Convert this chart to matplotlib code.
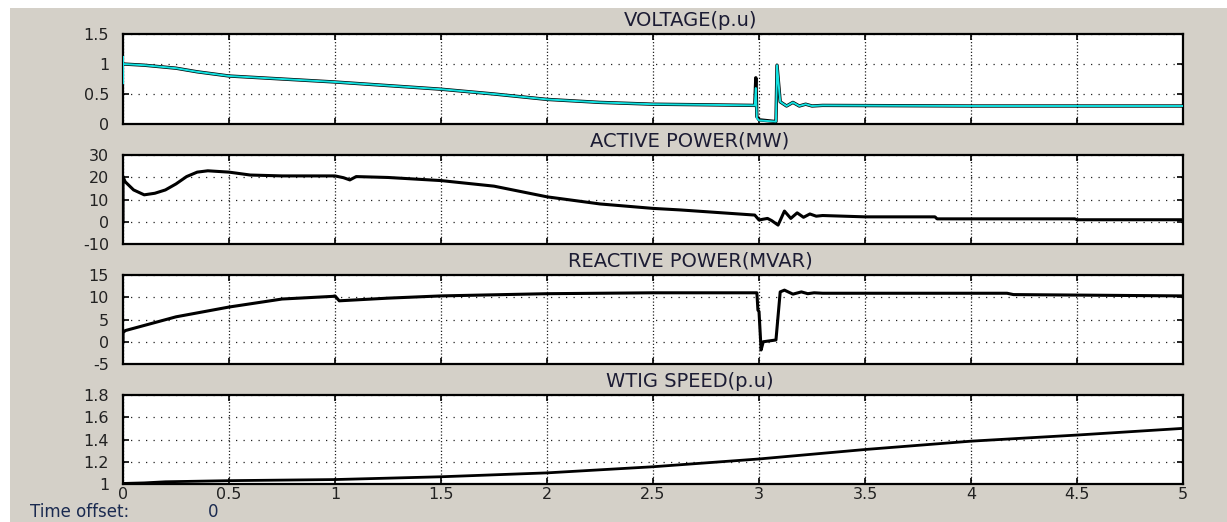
import matplotlib.pyplot as plt
from matplotlib.patches import Rectangle
import numpy as np

# time axis ticks
x_ticks = [0, 0.5, 1, 1.5, 2, 2.5, 3, 3.5, 4, 4.5, 5]
x_labels = ['0', '0.5', '1', '1.5', '2', '2.5', '3', '3.5', '4', '4.5', '5']

# voltage (p.u) - black trace with cyan trace on top
volt_t = [0, 0.1, 0.25, 0.35, 0.5, 0.75, 1.0, 1.25, 1.5, 1.75, 2.0, 2.25, 2.5, 2.75, 2.98,
          2.985, 2.99, 3.0, 3.08, 3.085, 3.1, 3.13, 3.16, 3.19, 3.22, 3.25, 3.3, 4.0, 5.0]
volt_black = [1.0, 0.98, 0.93, 0.87, 0.8, 0.75, 0.7, 0.64, 0.58, 0.5, 0.41, 0.36, 0.33, 0.32, 0.31,
              0.77, 0.12, 0.07, 0.04, 0.98, 0.37, 0.3, 0.36, 0.3, 0.33, 0.3, 0.31, 0.3, 0.3]
volt_cyan_t = [0, 0, 0] + volt_t[1:]
volt_cyan = [0.68, 1.12, 1.0] + [0.98, 0.93, 0.87, 0.8, 0.75, 0.7, 0.64, 0.58, 0.5, 0.41, 0.36, 0.33, 0.32, 0.31,
                                 0.6, 0.1, 0.06, 0.04, 0.98, 0.37, 0.3, 0.36, 0.3, 0.33, 0.3, 0.31, 0.3, 0.3]

# active power (MW)
p_t = [0, 0, 0.01, 0.05, 0.1, 0.15, 0.2, 0.25, 0.3, 0.35, 0.4, 0.5, 0.6, 0.75, 1.0, 1.04, 1.07, 1.1,
       1.25, 1.5, 1.75, 2.0, 2.25, 2.5, 2.63, 2.98, 3.0, 3.04, 3.06, 3.09, 3.12, 3.15, 3.18, 3.21,
       3.24, 3.27, 3.3, 3.5, 3.83, 3.84, 4.49, 4.5, 5.0]
p_mw = [0, 20.3, 18, 14.3, 12.1, 12.8, 14.3, 17, 20.3, 22.3, 22.9, 22.3, 21, 20.6, 20.6, 19.8, 18.8, 20.3,
        19.9, 18.5, 16, 11.2, 8, 6, 5.3, 3, 0.8, 1.5, 0.5, -1.5, 4.8, 1.5, 4, 2, 3.5, 2.5, 2.8, 2.2, 2.2,
        1.3, 1.3, 0.9, 0.9]

# reactive power (MVAR)
q_t = [0, 0, 0.01, 0.25, 0.5, 0.75, 0.99, 1.0, 1.02, 1.25, 1.5, 2.0, 2.5, 2.99, 2.995, 3.0, 3.01,
       3.02, 3.08, 3.1, 3.12, 3.16, 3.2, 3.23, 3.26, 3.3, 4.17, 4.2, 5.0]
q_mvar = [0, 2.0, 2.5, 5.6, 7.8, 9.6, 10.2, 10.3, 9.2, 9.8, 10.3, 10.8, 11.0, 11.0, 7.1, 6.8, -1.85,
          0.0, 0.4, 11.2, 11.6, 10.7, 11.2, 10.8, 11.0, 10.9, 10.9, 10.6, 10.3]

# WTIG speed (p.u)
w_t = [0, 0.1, 0.2, 0.5, 1.0, 1.2, 1.5, 2.0, 2.5, 3.0, 3.5, 4.0, 4.5, 5.0]
w_pu = [1.005, 1.01, 1.02, 1.03, 1.04, 1.05, 1.065, 1.1, 1.155, 1.225, 1.31, 1.385, 1.44, 1.5]

titles = ['VOLTAGE(p.u)', 'ACTIVE POWER(MW)', 'REACTIVE POWER(MVAR)', 'WTIG SPEED(p.u)']
y_limits = [(0, 1.5), (-10, 30), (-5, 15), (1, 1.8)]
y_ticks = [[0, 0.5, 1, 1.5], [-10, 0, 10, 20, 30], [-5, 0, 5, 10, 15], [1, 1.2, 1.4, 1.6, 1.8]]
y_labels = [['0', '0.5', '1', '1.5'], ['-10', '0', '10', '20', '30'], ['-5', '0', '5', '10', '15'],
            ['1', '1.2', '1.4', '1.6', '1.8']]

W, H = 1227, 522
fig = plt.figure(figsize=(W / 100, H / 100), dpi=100, facecolor='white')

# grey scope window background
fig.patches.append(Rectangle((10 / W, 0), 1, 1 - 8 / H, transform=fig.transFigure,
                             facecolor='#d4d0c8', edgecolor='none', zorder=-10))

left, right = 123, 1183
tops = [34, 155, 275, 395]
bottoms = [124, 244, 364, 484]

axes = []
for i in range(4):
    ax = fig.add_axes([left / W, 1 - bottoms[i] / H, (right - left) / W, (bottoms[i] - tops[i]) / H])
    ax.set_zorder(1)
    ax.set_facecolor('white')
    ax.set_xlim(0, 5)
    ax.set_ylim(*y_limits[i])
    ax.set_xticks(x_ticks)
    ax.set_yticks(y_ticks[i])
    ax.set_yticklabels(y_labels[i])
    if i == 3:
        ax.set_xticklabels(x_labels)
    else:
        ax.set_xticklabels([])
    ax.tick_params(direction='in', length=4, width=1.2, top=True, right=True,
                   labelsize=11.5, labelcolor='#222222', pad=4)
    ax.tick_params(axis='y', pad=10)
    ax.tick_params(axis='x', pad=2)
    ax.xaxis.grid(True, linestyle=(0, (1, 1.6)), color='#222222', lw=0.9)
    ax.yaxis.grid(True, linestyle=(0, (1, 5)), color='#222222', lw=0.9)
    for s in ax.spines.values():
        s.set_color('black')
        s.set_linewidth(1.6)
    ax.text(0.535, 1.05, titles[i], transform=ax.transAxes, ha='center', va='bottom',
            fontsize=14, color='#1c1c34')
    axes.append(ax)

# voltage
axes[0].plot(volt_t, volt_black, color='black', lw=2.4, zorder=3)
axes[0].plot(volt_cyan_t, volt_cyan, color='#12e2e2', lw=1.4, zorder=4)

# active power
axes[1].plot(p_t, p_mw, color='black', lw=2.2, zorder=3)

# reactive power
axes[2].plot(q_t, q_mvar, color='black', lw=2.2, zorder=3)

# speed
axes[3].plot(w_t, w_pu, color='black', lw=2.0, zorder=3)

fig.text(30 / W, 1 - 503 / H, 'Time offset:', fontsize=12, color='#1a2a50', va='top', ha='left')
fig.text(208 / W, 1 - 503 / H, '0', fontsize=12, color='#1a2a50', va='top', ha='left')

fig.savefig('out.png', dpi=100, facecolor=fig.get_facecolor())
